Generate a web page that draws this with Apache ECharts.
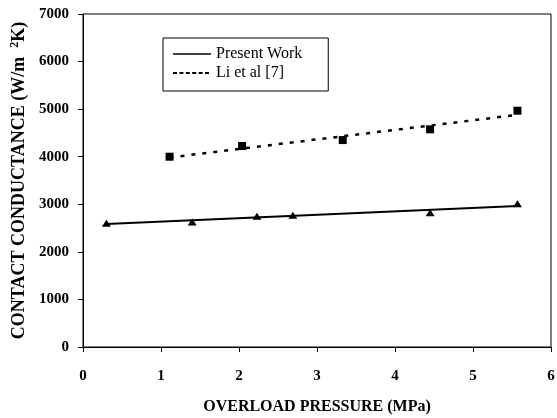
<!DOCTYPE html>
<html>
<head>
<meta charset="utf-8">
<script src="https://cdn.jsdelivr.net/npm/echarts@6/dist/echarts.min.js"></script>
<style>html,body{margin:0;padding:0;background:#fff}#c{width:557px;height:418px}</style>
</head>
<body>
<div id="c"></div>
<script>
// Data
const presentX = [0.30, 1.40, 2.23, 2.69, 4.45, 5.57];
const presentY = [2600, 2630, 2750, 2770, 2820, 3010];
const presentTrendX = [0.30, 5.57];
const presentTrendY = [2585, 2964];
const liX = [1.11, 2.04, 3.33, 4.45, 5.57];
const liY = [4000, 4225, 4350, 4576, 4967];
const liTrendX = [1.11, 5.57];
const liTrendY = [3984, 4880];
const xTicks = [0, 1, 2, 3, 4, 5, 6];
const yTicks = [0, 1000, 2000, 3000, 4000, 5000, 6000, 7000];
const seriesNames = ['Present Work', 'Li et al [7]'];

const zip = (a, b) => a.map((v, i) => [v, b[i]]);
const font = 'Liberation Serif, Times New Roman, serif';

const chart = echarts.init(document.getElementById('c'), null, {renderer: 'canvas'});
chart.setOption({
  animation: false,
  backgroundColor: '#fff',
  grid: {left: 83, right: 6, top: 14, bottom: 71, show: true, borderColor: '#000', borderWidth: 1,
    containLabel: false, outerBoundsMode: 'none'},
  legend: {
    orient: 'vertical', left: 163, top: 38,
    padding: [8, 26, 10, 9], itemWidth: 38, itemHeight: 14, itemGap: 3,
    borderColor: '#000', borderWidth: 1,
    textStyle: {fontFamily: font, fontSize: 16, color: '#000'},
    data: [
      {name: seriesNames[0], itemStyle: {opacity: 0}, lineStyle: {width: 1.5}},
      {name: seriesNames[1], itemStyle: {opacity: 0}, lineStyle: {type: [4, 2.4], width: 2}}
    ]
  },
  xAxis: {
    type: 'value', min: xTicks[0], max: xTicks[xTicks.length - 1], interval: 1,
    name: 'OVERLOAD PRESSURE (MPa)', nameLocation: 'middle', nameGap: 52,
    nameTextStyle: {fontFamily: font, fontSize: 16, fontWeight: 'bold', color: '#000'},
    axisLine: {lineStyle: {color: '#000', width: 1}},
    axisTick: {show: true, length: 5, lineStyle: {color: '#000'}},
    splitLine: {show: false},
    axisLabel: {fontFamily: font, fontSize: 15, fontWeight: 'bold', color: '#000', margin: 22}
  },
  yAxis: {
    type: 'value', min: yTicks[0], max: yTicks[yTicks.length - 1], interval: 1000,
    name: '{a|CONTACT CONDUCTANCE (W/m  }{s|2}{a|K)}', nameLocation: 'middle', nameGap: 52, nameRotate: 90,
    nameTextStyle: {
      color: '#000',
      rich: {
        a: {fontFamily: font, fontSize: 18, fontWeight: 'bold', color: '#000', lineHeight: 20},
        s: {fontFamily: font, fontSize: 12, fontWeight: 'bold', color: '#000', lineHeight: 20, verticalAlign: 'top', padding: [0, 0, 6, 0]}
      }
    },
    axisLine: {show: true, lineStyle: {color: '#000', width: 1}},
    axisTick: {show: true, length: 5, lineStyle: {color: '#000'}},
    splitLine: {show: false},
    axisLabel: {fontFamily: font, fontSize: 15, fontWeight: 'bold', color: '#000', margin: 14,
      formatter: v => String(v)}
  },
  series: [
    {
      name: seriesNames[0], type: 'line', data: zip(presentTrendX, presentTrendY),
      symbol: 'none', lineStyle: {color: '#000', width: 2}, itemStyle: {color: '#000'}, z: 2
    },
    {
      name: seriesNames[1], type: 'line', data: zip(liTrendX, liTrendY),
      symbol: 'none', lineStyle: {color: '#000', width: 2.5, type: [4, 7]}, itemStyle: {color: '#000'}, z: 2
    },
    {
      name: 'presentPts', type: 'scatter', data: zip(presentX, presentY),
      symbol: 'triangle', symbolSize: [9, 7], itemStyle: {color: '#000', opacity: 1}, z: 3
    },
    {
      name: 'liPts', type: 'scatter', data: zip(liX, liY),
      symbol: 'rect', symbolSize: 8, itemStyle: {color: '#000', opacity: 1}, z: 3
    }
  ]
});
</script>
</body>
</html>
